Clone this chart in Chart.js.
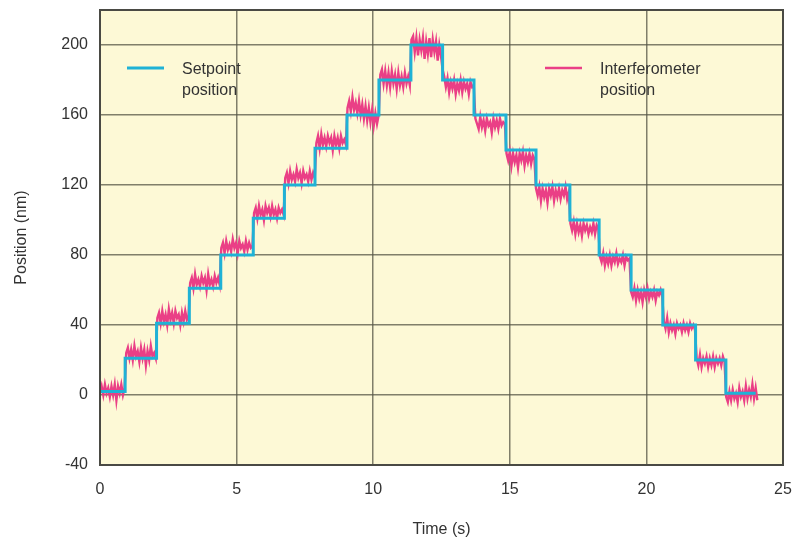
<!DOCTYPE html>
<html>
<head>
<meta charset="utf-8">
<script src="https://cdn.jsdelivr.net/npm/chart.js@4.4.1/dist/chart.umd.min.js"></script>
<style>
  html, body { margin: 0; padding: 0; background: #fff; }
</style>
</head>
<body>
<canvas id="posChart" width="793" height="545"></canvas>
<script>
// setpoint: start time of each level (last entry = end of trace) and the level in nm
var stepTimes = [0, 0.92, 2.07, 3.27, 4.42, 5.61, 6.75, 7.87, 9.04, 10.21, 11.38,
                 12.54, 13.69, 14.86, 15.96, 17.2, 18.27, 19.44, 20.6, 21.8, 22.91, 24.0];
var setpointLevels = [2, 21, 41, 61, 80, 101, 120, 141, 160, 180, 200,
                      180, 160, 140, 120, 100, 80, 60, 40, 20, 1];

// interferometer samples, one sample every 0.06 s, grouped per plateau
var sampleDt = 0.06;
var interfSteps = [
    [1, 5, 0, 6, 1, 4, -1, 5, 0, 6, -3, 5, 1, 6, 0, 4],
    [24, 27, 21, 26, 20, 28, 22, 25, 19, 27, 21, 26, 17, 25, 20, 28, 22, 24, 21],
    [44, 47, 41, 48, 42, 46, 40, 49, 43, 47, 41, 48, 44, 46, 40, 47, 42, 48, 43, 45],
    [64, 67, 61, 69, 63, 66, 62, 68, 64, 67, 60, 69, 63, 66, 62, 68, 64, 67, 63],
    [84, 87, 81, 88, 83, 86, 82, 89, 84, 87, 81, 88, 84, 86, 82, 88, 83, 87, 84, 85],
    [104, 107, 101, 108, 103, 106, 100, 108, 104, 107, 102, 108, 103, 106, 101, 107, 104, 106, 103],
    [124, 127, 121, 128, 123, 126, 122, 129, 124, 127, 121, 128, 124, 126, 122, 128, 123, 127, 124],
    [144, 148, 141, 149, 143, 147, 142, 148, 144, 147, 140, 148, 143, 147, 141, 148, 144, 146, 143],
    [164, 168, 162, 170, 163, 167, 161, 168, 160, 166, 158, 165, 157, 164, 156, 163, 154, 161, 155, 160],
    [183, 186, 178, 185, 177, 184, 176, 185, 178, 183, 175, 184, 177, 182, 176, 184, 178, 182, 177],
    [203, 205, 196, 204, 194, 203, 197, 204, 192, 202, 195, 204, 193, 203, 196, 202, 191, 200, 194],
    [186, 182, 176, 181, 173, 179, 175, 180, 172, 178, 174, 180, 173, 179, 175, 178, 172, 179, 176, 177],
    [158, 155, 152, 159, 153, 157, 151, 158, 154, 156, 150, 158, 153, 157, 152, 158, 154, 156, 155],
    [138, 134, 139, 131, 138, 133, 137, 130, 138, 134, 139, 131, 137, 133, 138, 132, 137, 135],
    [118, 114, 119, 111, 118, 113, 117, 110, 118, 114, 119, 111, 117, 113, 118, 112, 117, 114, 119, 112, 116],
    [98, 94, 99, 92, 98, 93, 97, 91, 98, 94, 97, 92, 96, 93, 98, 92, 97, 95],
    [79, 76, 81, 74, 79, 75, 80, 74, 79, 76, 81, 75, 78, 76, 80, 74, 79, 77, 78],
    [59, 56, 61, 54, 60, 55, 59, 53, 60, 56, 61, 55, 59, 56, 60, 54, 59, 57, 60, 56],
    [42, 38, 44, 36, 41, 37, 40, 35, 41, 38, 40, 36, 41, 37, 40, 36, 41, 38, 40, 37],
    [21, 17, 23, 16, 21, 18, 22, 16, 21, 17, 22, 16, 21, 18, 21, 17, 22, 19],
    [-1, -4, 2, -3, 3, -2, 1, -4, 4, -1, 2, -3, 5, -2, 3, -1, 6, -2, 4, -3]
];

var xTicks = [0, 5, 10, 15, 20, 25];
var yTicks = [-40, 0, 40, 80, 120, 160, 200];

var FONT = '"Liberation Sans", Arial, sans-serif';
var TEXT = '#333333';
var BLUE = '#1fb2d6';
var PINK = '#ea3f86';

// build point lists
var setpointPts = [];
for (var i = 0; i < setpointLevels.length; i++) {
    setpointPts.push({x: stepTimes[i], y: setpointLevels[i]});
}
setpointPts.push({x: stepTimes[stepTimes.length - 1], y: setpointLevels[setpointLevels.length - 1]});

var interfPts = [];
var n = 0;
interfSteps.forEach(function (block) {
    block.forEach(function (v) {
        interfPts.push({x: +(n * sampleDt).toFixed(2), y: v});
        n++;
    });
});

// background, frame and the in-plot legend
var plotDecor = {
    id: 'plotDecor',
    beforeDraw: function (chart) {
        var a = chart.chartArea, ctx = chart.ctx;
        ctx.save();
        ctx.fillStyle = '#fdf9d6';
        ctx.fillRect(a.left, a.top, a.right - a.left, a.bottom - a.top);
        ctx.restore();
    },
    afterDraw: function (chart) {
        var a = chart.chartArea, ctx = chart.ctx;
        ctx.save();
        ctx.strokeStyle = '#4a4a44';
        ctx.lineWidth = 2;
        ctx.strokeRect(a.left, a.top, a.right - a.left, a.bottom - a.top);

        var items = [
            {x: a.left + 27, color: BLUE, width: 3, lines: ['Setpoint', 'position']},
            {x: a.left + 445, color: PINK, width: 2.5, lines: ['Interferometer', 'position']}
        ];
        items.forEach(function (it) {
            ctx.strokeStyle = it.color;
            ctx.lineWidth = it.width;
            ctx.beginPath();
            ctx.moveTo(it.x, a.top + 58);
            ctx.lineTo(it.x + 37, a.top + 58);
            ctx.stroke();
            ctx.fillStyle = TEXT;
            ctx.font = '16px ' + FONT;
            ctx.textBaseline = 'middle';
            ctx.textAlign = 'left';
            ctx.fillText(it.lines[0], it.x + 55, a.top + 60);
            ctx.fillText(it.lines[1], it.x + 55, a.top + 81);
        });
        ctx.restore();
    }
};

var ctx = document.getElementById('posChart').getContext('2d');
new Chart(ctx, {
    type: 'line',
    data: {
        datasets: [{
            label: 'Setpoint position',
            data: setpointPts,
            borderColor: BLUE,
            borderWidth: 3,
            stepped: 'before',
            pointRadius: 0,
            fill: false
        }, {
            label: 'Interferometer position',
            data: interfPts,
            borderColor: PINK,
            borderWidth: 2.4,
            pointRadius: 0,
            tension: 0,
            fill: false
        }]
    },
    options: {
        responsive: false,
        animation: false,
        devicePixelRatio: 1,
        layout: {padding: {top: 10, right: 10, left: 0, bottom: 0}},
        plugins: {
            legend: {display: false},
            tooltip: {enabled: false}
        },
        scales: {
            x: {
                type: 'linear',
                min: 0,
                max: 25,
                afterBuildTicks: function (s) { s.ticks = xTicks.map(function (v) { return {value: v}; }); },
                afterFit: function (s) { s.height = 80; s.paddingLeft = 0; s.paddingRight = 0; },
                grid: {color: 'rgba(85,85,70,0.75)', lineWidth: 1.5, drawTicks: false},
                border: {display: false},
                ticks: {color: TEXT, font: {family: FONT, size: 16}, padding: 15, maxRotation: 0},
                title: {display: true, text: 'Time (s)', color: TEXT,
                        font: {family: FONT, size: 16}, padding: {top: 0, bottom: 6}}
            },
            y: {
                min: -40,
                max: 220,
                afterBuildTicks: function (s) { s.ticks = yTicks.map(function (v) { return {value: v}; }); },
                afterFit: function (s) { s.width = 100; s.paddingTop = 0; s.paddingBottom = 0; },
                grid: {color: 'rgba(85,85,70,0.75)', lineWidth: 1.5, drawTicks: false},
                border: {display: false},
                ticks: {color: TEXT, font: {family: FONT, size: 16}, padding: 12},
                title: {display: true, text: 'Position (nm)', color: TEXT,
                        font: {family: FONT, size: 16}, padding: {top: 12, bottom: 0}}
            }
        }
    },
    plugins: [plotDecor]
});
</script>
</body>
</html>
